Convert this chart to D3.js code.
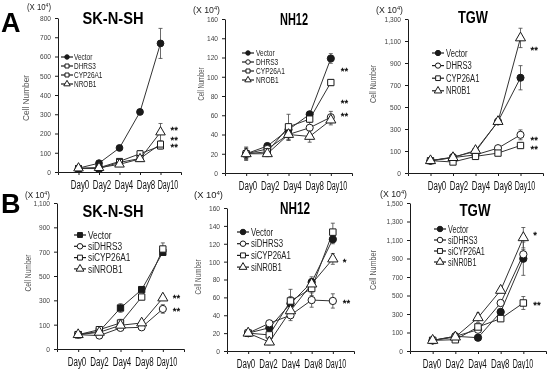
<!DOCTYPE html>
<html>
<head>
<meta charset="utf-8">
<script src="https://cdn.jsdelivr.net/npm/d3@7"></script>
<style>
  body { margin: 0; background: #fff; }
  svg { will-change: transform; }
  svg text { font-family: "Liberation Sans", Arial, sans-serif; }
</style>
</head>
<body>
<svg id="fig" width="550" height="369"></svg>
<script>
// ---- data (x 10^4 cells) ----
const days = ["Day0", "Day2", "Day4", "Day8", "Day10"];

// panel A, SK-N-SH
const aSknVector = [20, 46, 125, 312, 668];
const aSknDhrs3 = [18, 22, 55, 95, 135];
const aSknCyp = [18, 18, 50, 70, 145];
const aSknNrob1 = [20, 22, 40, 68, 207];
const aSknVectorErr = [6, 8, 10, 10, 78];
const aSknDhrs3Err = [4, 5, 10, 15, 15];
const aSknCypErr = [4, 4, 8, 8, 10];
const aSknNrob1Err = [4, 4, 8, 8, 45];

// panel A, NH12
const aNhVector = [20, 28, 45, 61, 119];
const aNhDhrs3 = [20, 25, 40, 47, 58];
const aNhCyp = [20, 22, 48, 56, 94];
const aNhNrob1 = [20, 20, 40, 38, 55];
const aNhVectorErr = [7, 3, 5, 3, 5];
const aNhDhrs3Err = [6, 3, 6, 6, 6];
const aNhCypErr = [5, 3, 13, 3, 3];
const aNhNrob1Err = [5, 3, 6, 6, 5];

// panel A, TGW
const aTgwVector = [12, 45, 96, 368, 766];
const aTgwDhrs3 = [12, 40, 65, 126, 247];
const aTgwCyp = [12, 0, 51, 81, 150];
const aTgwNr0b1 = [12, 40, 105, 368, 1128];
const aTgwVectorErr = [10, 10, 10, 15, 110];
const aTgwDhrs3Err = [10, 10, 10, 15, 45];
const aTgwCypErr = [10, 10, 10, 20, 20];
const aTgwNr0b1Err = [10, 10, 10, 15, 88];

// panel B, SK-N-SH
const bSknVector = [18, 45, 237, 388, 695];
const bSknDhrs3 = [18, 10, 73, 78, 229];
const bSknCyp = [18, 59, 114, 327, 722];
const bSknNr0b1 = [18, 37, 95, 114, 319];
const bSknVectorErr = [8, 8, 35, 15, 20];
const bSknDhrs3Err = [5, 10, 10, 10, 35];
const bSknCypErr = [8, 10, 30, 15, 50];
const bSknNr0b1Err = [5, 8, 10, 10, 15];

// panel B, NH12
const bNhVector = [20, 26, 53, 77, 125];
const bNhDhrs3 = [20, 31, 40, 57, 56];
const bNhCyp = [20, 18, 56, 70, 133];
const bNhNr0b1 = [20, 10, 45, 75, 103];
const bNhVectorErr = [2, 3, 8, 6, 5];
const bNhDhrs3Err = [2, 3, 6, 8, 8];
const bNhCypErr = [2, 3, 13, 8, 10];
const bNhNr0b1Err = [2, 3, 8, 6, 6];

// panel B, TGW
const bTgwVector = [15, 59, 44, 322, 898];
const bTgwDhrs3 = [15, 59, 130, 419, 945];
const bTgwCyp = [15, 22, 160, 250, 419];
const bTgwNr0b1 = [15, 51, 260, 556, 1125];
const bTgwVectorErr = [8, 10, 15, 25, 180];
const bTgwDhrs3Err = [8, 10, 15, 20, 50];
const bTgwCypErr = [8, 10, 25, 20, 70];
const bTgwNr0b1Err = [8, 10, 50, 20, 110];

// axis ticks
const sknATicks = [0, 100, 200, 300, 400, 500, 600, 700, 800];
const sknATickLabels = ["0", "100", "200", "300", "400", "500", "600", "700", "800"];
const nhTicks = [0, 20, 40, 60, 80, 100, 120, 140, 160];
const nhTickLabels = ["0", "20", "40", "60", "80", "100", "120", "140", "160"];
const tgwATicks = [-100, 100, 300, 500, 700, 900, 1100, 1300];
const tgwATickLabels = ["0", "100", "300", "500", "700", "900", "1,100", "1,300"];
const sknBTicks = [-100, 100, 300, 500, 700, 900, 1100];
const sknBTickLabels = ["0", "100", "300", "500", "700", "900", "1,100"];
const tgwBTicks = [-100, 100, 300, 500, 700, 900, 1100, 1300, 1500];
const tgwBTickLabels = ["0", "100", "300", "500", "700", "900", "1,100", "1,300", "1,500"];

// significance marks (value level at Day10)
const aSknStars = [{ t: "**", v: 229 }, { t: "**", v: 177 }, { t: "**", v: 140 }];
const aNhStars = [{ t: "**", v: 108 }, { t: "**", v: 75 }, { t: "**", v: 62 }];
const aTgwStars = [{ t: "**", v: 1036 }, { t: "**", v: 218 }, { t: "**", v: 136 }];
const bSknStars = [{ t: "**", v: 336 }, { t: "**", v: 229 }];
const bNhStars = [{ t: "*", v: 102 }, { t: "**", v: 56 }];
const bTgwStars = [{ t: "*", v: 1176 }, { t: "**", v: 419 }];

const svg = d3.select("#fig");
const ink = "#1a1a1a";

function squeeze(sel, ratio) {
  sel.each(function () {
    const w = this.getComputedTextLength();
    d3.select(this).attr("textLength", w * ratio).attr("lengthAdjust", "spacingAndGlyphs");
  });
}
function fitWidth(sel, width) {
  sel.attr("textLength", width).attr("lengthAdjust", "spacingAndGlyphs");
}

const symbolFor = {
  circle: d3.symbolCircle,
  square: d3.symbolSquare,
  triangle: d3.symbolTriangle,
};

function drawMarker(g, kind, filled, cx, cy, size) {
  g.append("path")
    .attr("d", d3.symbol().type(symbolFor[kind]).size(kind === "triangle" ? size * 1.1 : size)())
    .attr("transform", `translate(${cx},${cy})`)
    .attr("fill", filled ? ink : "#fff")
    .attr("stroke", ink)
    .attr("stroke-width", 1);
}

function drawPanel(p) {
  const g = svg.append("g");
  const x = d3.scalePoint().domain(days).range([p.ax, p.xEnd]).padding(1);
  const y = d3.scaleLinear().domain(p.domain).range([p.yb, p.yt]);
  // day captions sit on their own spacing, a bit wider than the points
  const xLab = d3.scalePoint().domain(days).range(p.labRange);

  // y axis
  const yAxis = g.append("g")
    .attr("transform", `translate(${p.ax},0)`)
    .call(d3.axisLeft(y).tickValues(p.ticks)
      .tickFormat((d, i) => p.tickLabels[i])
      .tickSizeInner(3).tickSizeOuter(0).tickPadding(4));
  yAxis.select(".domain").attr("stroke", ink);
  yAxis.selectAll(".tick line").attr("stroke", ink);
  yAxis.selectAll(".tick text")
    .attr("font-size", 7.5).attr("fill", "#444").attr("font-family", null);
  squeeze(yAxis.selectAll(".tick text"), 0.88);

  // x axis
  const xAxis = g.append("g")
    .attr("transform", `translate(0,${p.yb})`)
    .call(d3.axisBottom(x).tickSizeInner(3).tickSizeOuter(3).tickFormat(""));
  xAxis.select(".domain").attr("stroke", ink);
  xAxis.selectAll(".tick line").attr("stroke", ink);

  g.append("g").selectAll("text").data(days).join("text")
    .attr("x", (d) => xLab(d))
    .attr("y", p.yb + 16.5)
    .attr("text-anchor", "middle")
    .attr("font-size", 12).attr("fill", "#111")
    .attr("textLength", (d) => (d.length > 4 ? 20.5 : 18.5))
    .attr("lengthAdjust", "spacingAndGlyphs")
    .text((d) => d);

  // lines
  const line = d3.line().x((d) => x(d.day)).y((d) => y(d.v));
  p.series.forEach((s) => {
    const pts = days.map((day, i) => ({ day, v: s.values[i] }));
    g.append("path").datum(pts).attr("d", line)
      .attr("fill", "none").attr("stroke", "#333").attr("stroke-width", 1);
  });
  // error bars
  p.series.forEach((s) => {
    days.forEach((day, i) => {
      const cx = x(day);
      const y1 = y(s.values[i] + s.errors[i]);
      const y2 = y(s.values[i] - s.errors[i]);
      g.append("line").attr("x1", cx).attr("x2", cx).attr("y1", y1).attr("y2", y2)
        .attr("stroke", "#444").attr("stroke-width", 0.8);
      [y1, y2].forEach((yy) => {
        g.append("line").attr("x1", cx - 2).attr("x2", cx + 2).attr("y1", yy).attr("y2", yy)
          .attr("stroke", "#444").attr("stroke-width", 0.8);
      });
    });
  });
  // markers
  p.series.forEach((s) => {
    days.forEach((day, i) => {
      drawMarker(g, s.marker, s.filled, x(day), y(s.values[i]), p.markerSize);
    });
  });

  // significance marks
  p.stars.forEach((st) => {
    g.append("text")
      .attr("x", x("Day10") + 10)
      .attr("y", y(st.v))
      .attr("dy", "0.55em")
      .attr("font-size", 9.5)
      .attr("fill", "#000")
      .attr("stroke", "#000").attr("stroke-width", 0.3)
      .text(st.t);
  });

  // legend
  const L = p.legend;
  p.series.forEach((s, i) => {
    const ly = L.y + i * L.dy;
    g.append("line").attr("x1", L.x - 6).attr("x2", L.x + 6).attr("y1", ly).attr("y2", ly)
      .attr("stroke", ink).attr("stroke-width", 1.2);
    drawMarker(g, s.marker, s.filled, L.x, ly, L.size);
    const t = g.append("text")
      .attr("x", L.x + L.tx).attr("y", ly).attr("dy", "0.36em")
      .attr("font-size", L.fs).attr("fill", "#222")
      .text(s.name);
    squeeze(t, L.sq);
  });

  // title
  const title = g.append("text")
    .attr("x", p.titleX).attr("y", p.titleY)
    .attr("text-anchor", "middle")
    .attr("font-size", 16).attr("font-weight", "bold").attr("fill", "#000")
    .text(p.title);
  fitWidth(title, p.titleW);

  // y label
  const yl = g.append("text")
    .attr("transform", `translate(${p.ylab.x},${p.ylab.y}) rotate(-90)`)
    .attr("text-anchor", "middle").attr("dy", "0.35em")
    .attr("font-size", 9).attr("fill", "#555")
    .text("Cell Number");
  fitWidth(yl, p.ylab.w);

  // unit label
  const u = g.append("text")
    .attr("x", p.unit.x).attr("y", p.unit.y)
    .attr("font-size", 8.5).attr("fill", "#222");
  u.append("tspan").text("(X 10");
  u.append("tspan").attr("font-size", 5.5).attr("dy", -3).text("4");
  u.append("tspan").attr("dy", 3).text(")");
  fitWidth(u, p.unit.w);
}

const panels = [
  {
    title: "SK-N-SH", titleX: 113, titleY: 24, titleW: 61,
    ax: 58, xEnd: 181, yb: 172, yt: 18, domain: [0, 800], labRange: [80, 168],
    ticks: sknATicks, tickLabels: sknATickLabels, markerSize: 36,
    series: [
      { name: "Vector", values: aSknVector, errors: aSknVectorErr, marker: "circle", filled: true },
      { name: "DHRS3", values: aSknDhrs3, errors: aSknDhrs3Err, marker: "square", filled: false },
      { name: "CYP26A1", values: aSknCyp, errors: aSknCypErr, marker: "square", filled: false },
      { name: "NROB1", values: aSknNrob1, errors: aSknNrob1Err, marker: "triangle", filled: false },
    ],
    stars: aSknStars,
    legend: { x: 67, y: 57, dy: 9, tx: 7, fs: 9, sq: 0.72, size: 16 },
    ylab: { x: 26, y: 98, w: 46 }, unit: { x: 27, y: 10, w: 24 },
  },
  {
    title: "NH12", titleX: 294, titleY: 25, titleW: 28,
    ax: 225, xEnd: 352, yb: 173, yt: 19, domain: [0, 160], labRange: [248, 337],
    ticks: nhTicks, tickLabels: nhTickLabels, markerSize: 40,
    series: [
      { name: "Vector", values: aNhVector, errors: aNhVectorErr, marker: "circle", filled: true },
      { name: "DHRS3", values: aNhDhrs3, errors: aNhDhrs3Err, marker: "circle", filled: false },
      { name: "CYP26A1", values: aNhCyp, errors: aNhCypErr, marker: "square", filled: false },
      { name: "NROB1", values: aNhNrob1, errors: aNhNrob1Err, marker: "triangle", filled: false },
    ],
    stars: aNhStars,
    legend: { x: 248, y: 53, dy: 9, tx: 8, fs: 9, sq: 0.73, size: 16 },
    ylab: { x: 201, y: 84, w: 33 }, unit: { x: 193, y: 13, w: 27 },
  },
  {
    title: "TGW", titleX: 473, titleY: 23, titleW: 30,
    ax: 408, xEnd: 543, yb: 173, yt: 19, domain: [-100, 1300], labRange: [437, 525],
    ticks: tgwATicks, tickLabels: tgwATickLabels, markerSize: 40,
    series: [
      { name: "Vector", values: aTgwVector, errors: aTgwVectorErr, marker: "circle", filled: true },
      { name: "DHRS3", values: aTgwDhrs3, errors: aTgwDhrs3Err, marker: "circle", filled: false },
      { name: "CYP26A1", values: aTgwCyp, errors: aTgwCypErr, marker: "square", filled: false },
      { name: "NR0B1", values: aTgwNr0b1, errors: aTgwNr0b1Err, marker: "triangle", filled: false },
    ],
    stars: aTgwStars,
    legend: { x: 438, y: 53, dy: 12.6, tx: 8, fs: 10, sq: 0.76, size: 22 },
    ylab: { x: 373, y: 84, w: 38 }, unit: { x: 376, y: 13, w: 27 },
  },
  {
    title: "SK-N-SH", titleX: 113, titleY: 217, titleW: 61,
    ax: 57, xEnd: 184, yb: 349, yt: 203, domain: [-100, 1100], labRange: [77, 167],
    ticks: sknBTicks, tickLabels: sknBTickLabels, markerSize: 40,
    series: [
      { name: "Vector", values: bSknVector, errors: bSknVectorErr, marker: "square", filled: true },
      { name: "siDHRS3", values: bSknDhrs3, errors: bSknDhrs3Err, marker: "circle", filled: false },
      { name: "siCYP26A1", values: bSknCyp, errors: bSknCypErr, marker: "square", filled: false },
      { name: "siNROB1", values: bSknNr0b1, errors: bSknNr0b1Err, marker: "triangle", filled: false },
    ],
    stars: bSknStars,
    legend: { x: 80, y: 235, dy: 11.3, tx: 8, fs: 10, sq: 0.83, size: 24 },
    ylab: { x: 28, y: 273, w: 37 }, unit: { x: 25, y: 198, w: 25 },
  },
  {
    title: "NH12", titleX: 295, titleY: 214, titleW: 30,
    ax: 227, xEnd: 354, yb: 351, yt: 208, domain: [0, 160], labRange: [246, 336],
    ticks: nhTicks, tickLabels: nhTickLabels, markerSize: 42,
    series: [
      { name: "Vector", values: bNhVector, errors: bNhVectorErr, marker: "circle", filled: true },
      { name: "siDHRS3", values: bNhDhrs3, errors: bNhDhrs3Err, marker: "circle", filled: false },
      { name: "siCYP26A1", values: bNhCyp, errors: bNhCypErr, marker: "square", filled: false },
      { name: "siNR0B1", values: bNhNr0b1, errors: bNhNr0b1Err, marker: "triangle", filled: false },
    ],
    stars: bNhStars,
    legend: { x: 243, y: 232, dy: 11.7, tx: 8, fs: 10, sq: 0.78, size: 24 },
    ylab: { x: 198, y: 277, w: 35 }, unit: { x: 194, y: 198, w: 29 },
  },
  {
    title: "TGW", titleX: 475, titleY: 216, titleW: 31,
    ax: 410, xEnd: 546, yb: 351, yt: 203, domain: [-100, 1500], labRange: [432, 523],
    ticks: tgwBTicks, tickLabels: tgwBTickLabels, markerSize: 42,
    series: [
      { name: "Vector", values: bTgwVector, errors: bTgwVectorErr, marker: "circle", filled: true },
      { name: "siDHRS3", values: bTgwDhrs3, errors: bTgwDhrs3Err, marker: "circle", filled: false },
      { name: "siCYP26A1", values: bTgwCyp, errors: bTgwCypErr, marker: "square", filled: false },
      { name: "siNR0B1", values: bTgwNr0b1, errors: bTgwNr0b1Err, marker: "triangle", filled: false },
    ],
    stars: bTgwStars,
    legend: { x: 440, y: 229, dy: 11, tx: 8, fs: 10, sq: 0.72, size: 24 },
    ylab: { x: 373, y: 270, w: 40 }, unit: { x: 380, y: 197, w: 27 },
  },
];

panels.forEach(drawPanel);

// panel letters
[{ t: "A", y: 32 }, { t: "B", y: 213 }].forEach((l) => {
  svg.append("text").attr("x", 1).attr("y", l.y)
    .attr("font-size", 27).attr("font-weight", "bold").attr("fill", "#000")
    .text(l.t);
});
</script>
</body>
</html>
